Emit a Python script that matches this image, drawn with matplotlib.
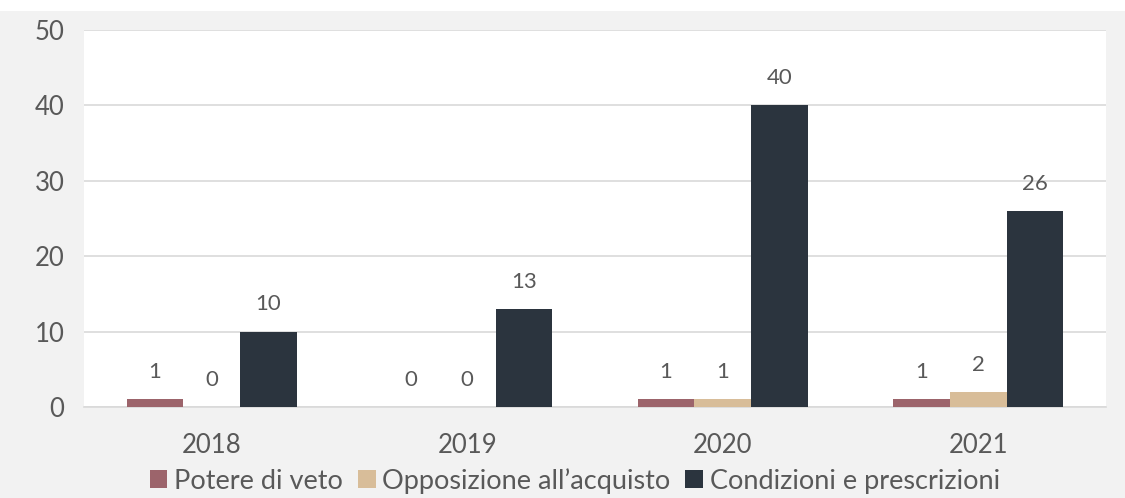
import matplotlib.pyplot as plt
import matplotlib.patches as mpatches
import numpy as np

# dati: operazioni notificate per anno
anni = ['2018', '2019', '2020', '2021']
potere_veto = [1, 0, 1, 1]
opposizione = [0, 0, 1, 2]
condizioni = [10, 13, 40, 26]
serie_nomi = ['Potere di veto', 'Opposizione all\u2019acquisto', 'Condizioni e prescrizioni']
colori = ['#9c646b', '#d8bd99', '#2b343e']
y_ticks = [0, 10, 20, 30, 40, 50]

plt.rcParams['font.family'] = ['Lato', 'DejaVu Sans']
testo = '#595959'

fig = plt.figure(figsize=(11.25, 4.98), dpi=100, facecolor='#f2f2f2')
# striscia bianca in alto
fig.patches.append(mpatches.Rectangle((0, 1 - 11 / 498), 1, 11 / 498, transform=fig.transFigure,
                                      facecolor='white', edgecolor='none', zorder=0))
ax = fig.add_axes([84 / 1125, 1 - 407 / 498, (1106 - 84) / 1125, (407 - 30) / 498])
ax.set_facecolor('white')

x = np.arange(len(anni))
w = 0.222
serie = [potere_veto, opposizione, condizioni]
for i, (vals, nome, col) in enumerate(zip(serie, serie_nomi, colori)):
    pos = x + (i - 1) * w
    ax.bar(pos, vals, width=w, color=col, label=nome, zorder=3)
    for p, v in zip(pos, vals):
        ax.text(p, v + 2.3, str(v), ha='center', va='bottom', fontsize=16, color=testo)

ax.set_xlim(-0.5, 3.5)
ax.set_ylim(0, 50)
ax.set_yticks(y_ticks)
ax.set_xticks(x)
ax.set_xticklabels(anni)
ax.yaxis.grid(True, color='#d9d9d9', linewidth=1.2, zorder=0)
ax.set_axisbelow(True)
for s in ['top', 'right', 'left']:
    ax.spines[s].set_visible(False)
ax.spines['bottom'].set_color('#d9d9d9')
ax.spines['bottom'].set_linewidth(1.2)
ax.tick_params(axis='both', length=0, labelsize=18.5, colors=testo)
ax.tick_params(axis='y', pad=14)
ax.tick_params(axis='x', pad=19)

fig.legend(*ax.get_legend_handles_labels(), loc='center', bbox_to_anchor=(0.511, 1 - 481 / 498),
           ncol=3, frameon=False, fontsize=19.5, labelcolor=testo,
           handlelength=0.65, handleheight=0.65, handletextpad=0.25,
           columnspacing=0.55, borderaxespad=0, borderpad=0)

fig.savefig('out.png', dpi=100, facecolor=fig.get_facecolor())
